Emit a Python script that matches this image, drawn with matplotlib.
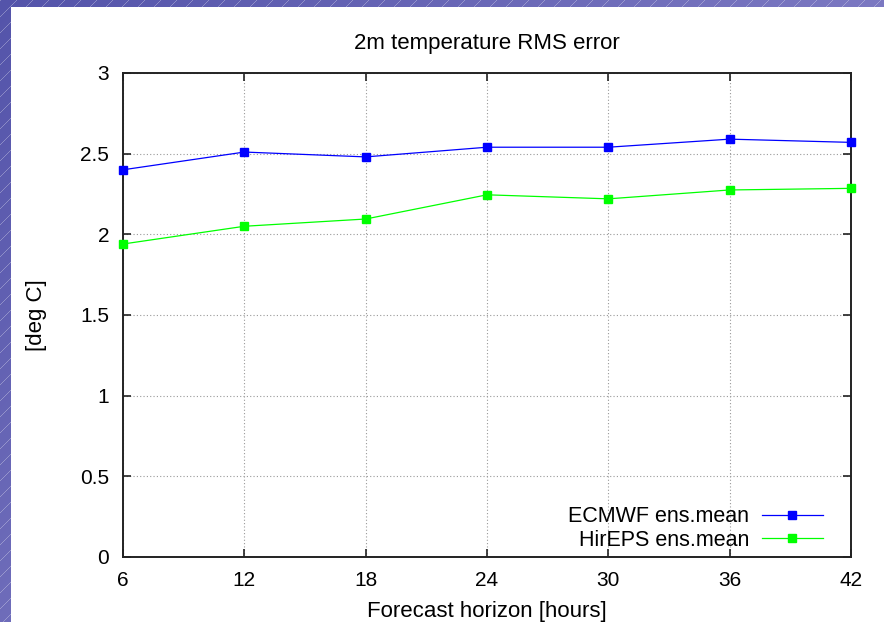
import numpy as np
import matplotlib.pyplot as plt

hours = [6, 12, 18, 24, 30, 36, 42]
ecmwf = [2.40, 2.51, 2.48, 2.54, 2.54, 2.59, 2.57]
hireps = [1.94, 2.05, 2.095, 2.245, 2.22, 2.275, 2.285]

plt.rcParams["font.family"] = ["Liberation Sans", "DejaVu Sans"]

W, H = 884, 622
fig = plt.figure(figsize=(W / 100, H / 100), dpi=100)

# slide-like background: purple gradient with faint diagonal hatch
bg = fig.add_axes([0, 0, 1, 1])
yy, xx = np.mgrid[0:H, 0:W]
t = 0.6 * xx / W + 0.4 * yy / H
c0 = np.array([84, 84, 170]) / 255
c1 = np.array([150, 145, 210]) / 255
img = c0 + (c1 - c0) * t[..., None]
hatch = ((xx + yy) % 16) == 0
img[hatch] = img[hatch] * 0.7 + 0.3
img[7:, 11:] = 1.0
bg.imshow(img, aspect="auto", interpolation="nearest")
bg.axis("off")

ax = fig.add_axes([123 / W, 65 / H, 728 / W, 484 / H])
ax.plot(hours, ecmwf, color="#0000ff", lw=0.9, marker="s", ms=6,
        label="ECMWF ens.mean", clip_on=False, zorder=3)
ax.plot(hours, hireps, color="#00ff00", lw=0.9, marker="s", ms=6,
        label="HirEPS ens.mean", clip_on=False, zorder=3)

ax.set_xlim(6, 42)
ax.set_ylim(0, 3)
ax.set_xticks(hours)
ax.set_yticks([0, 0.5, 1, 1.5, 2, 2.5, 3])
ax.set_yticklabels(["0", "0.5", "1", "1.5", "2", "2.5", "3"])
ax.tick_params(direction="in", length=6, width=1.2, top=True, right=True,
               labelsize=15, pad=10, colors="#222222", labelcolor="black")
ax.grid(True, linestyle=(0, (1, 2)), color="#999999", lw=0.8)
for s in ax.spines.values():
    s.set_linewidth(1.4)
    s.set_color("#222222")

ax.set_title("2m temperature RMS error", fontsize=16, pad=17)
ax.set_xlabel("Forecast horizon [hours]", fontsize=16, labelpad=8)
ax.set_ylabel("[deg C]", fontsize=16, labelpad=24)

ax.legend(loc="lower right", bbox_to_anchor=(1 - 9 / 728, -13 / 484),
          frameon=False, markerfirst=False, fontsize=15.5,
          handlelength=2.8, handletextpad=0.6, labelspacing=0.1,
          borderaxespad=0.5)

fig.savefig("out.png", dpi=100)
